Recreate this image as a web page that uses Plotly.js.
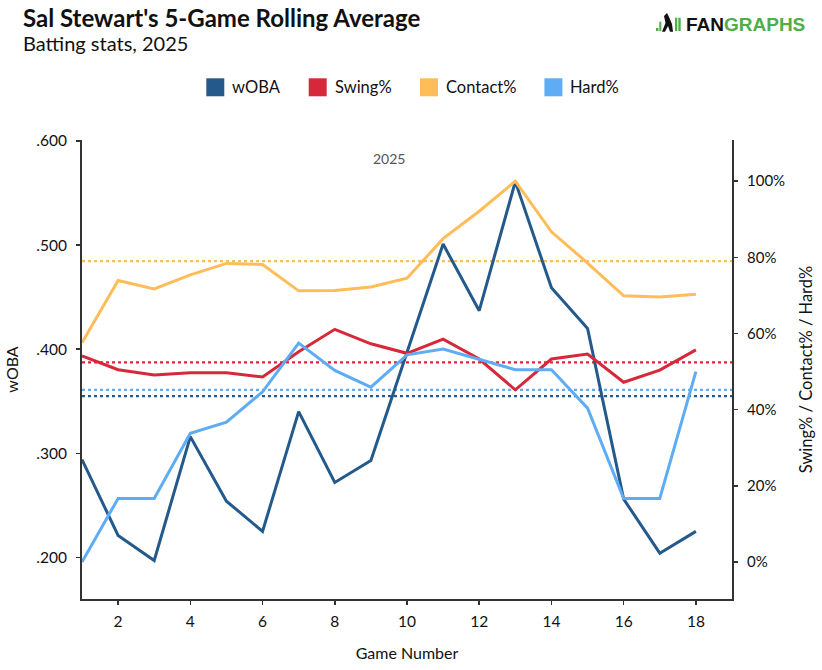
<!DOCTYPE html>
<html>
<head>
<meta charset="utf-8">
<script src="https://cdn.plot.ly/plotly-3.0.1.min.js"></script>
<style>html,body{margin:0;padding:0;background:#fff;}#chart{width:822px;height:670px;}</style>
</head>
<body>
<div id="chart"></div>
<script>
// ---- data ----
const games = [1,2,3,4,5,6,7,8,9,10,11,12,13,14,15,16,17,18];
const woba = [0.294,0.221,0.197,0.316,0.254,0.225,0.340,0.272,0.293,0.396,0.501,0.437,0.561,0.459,0.420,0.256,0.204,0.225];
const swingPct = [0.541,0.505,0.491,0.497,0.497,0.486,0.552,0.611,0.573,0.548,0.585,0.533,0.452,0.533,0.546,0.472,0.504,0.557];
const contactPct = [0.576,0.739,0.717,0.754,0.784,0.781,0.712,0.713,0.722,0.745,0.849,0.921,1.000,0.867,0.785,0.699,0.696,0.703];
const hardPct = [0.000,0.167,0.167,0.338,0.367,0.447,0.575,0.503,0.459,0.544,0.559,0.531,0.505,0.505,0.404,0.167,0.167,0.500];
const avgWoba = 0.355;
const avgSwing = 0.524;
const avgContact = 0.790;
const avgHard = 0.452;
const wobaTickVals = [0.2,0.3,0.4,0.5,0.6];
const wobaTickText = ['.200','.300','.400','.500','.600'];
const pctTickVals = [0,0.2,0.4,0.6,0.8,1.0];
const gameTickVals = [2,4,6,8,10,12,14,16,18];
const seriesNames = ['wOBA','Swing%','Contact%','Hard%'];
const colors = ['#245a8b','#d7283b','#ffbd59','#5eadf4'];

const FONT = 'Lato, "Open Sans", sans-serif';

const traces = [
  {x: games, y: woba, name: seriesNames[0], yaxis: 'y', color: colors[0]},
  {x: games, y: swingPct, name: seriesNames[1], yaxis: 'y2', color: colors[1]},
  {x: games, y: contactPct, name: seriesNames[2], yaxis: 'y2', color: colors[2]},
  {x: games, y: hardPct, name: seriesNames[3], yaxis: 'y2', color: colors[3]}
].map(t => ({
  type: 'scatter', mode: 'lines', x: t.x, y: t.y, name: t.name, yaxis: t.yaxis,
  line: {color: t.color, width: 3}, showlegend: false, hoverinfo: 'skip'
}));

const refLines = [
  {y: avgContact, yref: 'y2', color: colors[2]},
  {y: avgSwing, yref: 'y2', color: colors[1]},
  {y: avgHard, yref: 'y2', color: colors[3]},
  {y: avgWoba, yref: 'y', color: colors[0]}
];
const shapes = refLines.map(r => ({
  type: 'line', xref: 'paper', x0: 0, x1: 1, yref: r.yref, y0: r.y, y1: r.y,
  line: {color: r.color, width: 2.2, dash: 'dot'}, layer: 'below'
}));

// layout geometry
const W = 822, H = 670, ML = 82, MR = 90, MT = 140, MB = 71;
const PW = W - ML - MR, PH = H - MT - MB;
const px = x => (x - ML) / PW;
const py = y => (H - MB - y) / PH;

// legend (custom squares)
const legX = [206.3, 308.7, 420, 544.4];
const annotations = [];
seriesNames.forEach((n, i) => {
  shapes.push({type: 'rect', xref: 'paper', yref: 'paper',
    x0: px(legX[i]), x1: px(legX[i] + 18), y0: py(96.3), y1: py(78.3),
    fillcolor: colors[i], line: {width: 0}});
  annotations.push({xref: 'paper', yref: 'paper', x: px(legX[i] + 24), y: py(87.5),
    xanchor: 'left', yanchor: 'middle', align: 'left', showarrow: false, text: n,
    font: {family: FONT, size: 16.5, color: '#111'}});
});

annotations.push(
  {xref: 'paper', yref: 'paper', x: px(21), y: py(17), xanchor: 'left', yanchor: 'middle', align: 'left', showarrow: false,
   text: "<b>Sal Stewart's 5-Game Rolling Average</b>",
   font: {family: FONT, size: 24, color: '#111'}},
  {xref: 'paper', yref: 'paper', x: px(21), y: py(43), xanchor: 'left', yanchor: 'middle', align: 'left', showarrow: false,
   text: "Batting stats, 2025",
   font: {family: FONT, size: 20, color: '#111'}},
  {xref: 'paper', yref: 'paper', x: px(388.5), y: py(158.5), xanchor: 'center', yanchor: 'middle', showarrow: false,
   text: "2025", font: {family: FONT, size: 14, color: '#555'}},
  {xref: 'paper', yref: 'paper', x: px(683.5), y: py(24.5), xanchor: 'left', yanchor: 'middle', align: 'left', showarrow: false,
   text: "<b><span style='color:#111'>FAN</span><span style='color:#4fae4a'>GRAPHS</span></b>",
   font: {family: '"Liberation Sans", Arial, sans-serif', size: 19}}
);
// small logo icon
shapes.push(
  {type: 'rect', xref: 'paper', yref: 'paper', x0: px(656), x1: px(658.5), y0: py(31), y1: py(28), fillcolor: '#4fae4a', line: {width: 0}},
  {type: 'rect', xref: 'paper', yref: 'paper', x0: px(659.3), x1: px(661.3), y0: py(31), y1: py(21.7), fillcolor: '#4fae4a', line: {width: 0}},
  {type: 'path', xref: 'paper', yref: 'paper',
   path: `M ${px(662)} ${py(31.7)} L ${px(665.5)} ${py(23)} L ${px(664)} ${py(16)} L ${px(667)} ${py(13)} L ${px(669)} ${py(17)} L ${px(672)} ${py(24)} L ${px(673)} ${py(31.7)} L ${px(670)} ${py(31.7)} L ${px(668)} ${py(26)} L ${px(665)} ${py(31.7)} Z`,
   fillcolor: '#111', line: {width: 0}},
  {type: 'rect', xref: 'paper', yref: 'paper', x0: px(675), x1: px(677.3), y0: py(31), y1: py(17.7), fillcolor: '#4fae4a', line: {width: 0}},
  {type: 'rect', xref: 'paper', yref: 'paper', x0: px(678.3), x1: px(680.7), y0: py(31), y1: py(17.7), fillcolor: '#4fae4a', line: {width: 0}}
);

const axisCommon = {
  showline: true, linecolor: '#333', linewidth: 2, ticks: 'outside', ticklen: 4,
  tickcolor: '#333', tickwidth: 1.5, showgrid: false, zeroline: false,
  ticklabelstandoff: 6,
  tickfont: {family: FONT, size: 15.5, color: '#111'}
};

const layout = {
  width: W, height: H,
  margin: {l: ML, r: MR, t: MT, b: MB, pad: 0},
  paper_bgcolor: '#fff', plot_bgcolor: '#fff',
  showlegend: false,
  font: {family: FONT},
  xaxis: Object.assign({}, axisCommon, {
    range: [1, 19], tickvals: gameTickVals, ticklabelstandoff: 3,
    title: {text: 'Game Number', font: {family: FONT, size: 16, color: '#111'}, standoff: 19}
  }),
  yaxis: Object.assign({}, axisCommon, {
    range: [0.160, 0.601], tickvals: wobaTickVals, ticktext: wobaTickText,
    title: {text: 'wOBA', font: {family: FONT, size: 16, color: '#111'}, standoff: 14}
  }),
  yaxis2: Object.assign({}, axisCommon, {
    overlaying: 'y', side: 'right', range: [-0.097, 1.108],
    tickvals: pctTickVals, tickformat: '.0%',
    tickfont: {family: FONT, size: 15, color: '#111'},
    title: {text: 'Swing% / Contact% / Hard%', font: {family: FONT, size: 16.5, color: '#111'}, standoff: 16}
  }),
  shapes: shapes,
  annotations: annotations
};

Plotly.newPlot('chart', traces, layout, {displayModeBar: false, staticPlot: true});
</script>
</body>
</html>
